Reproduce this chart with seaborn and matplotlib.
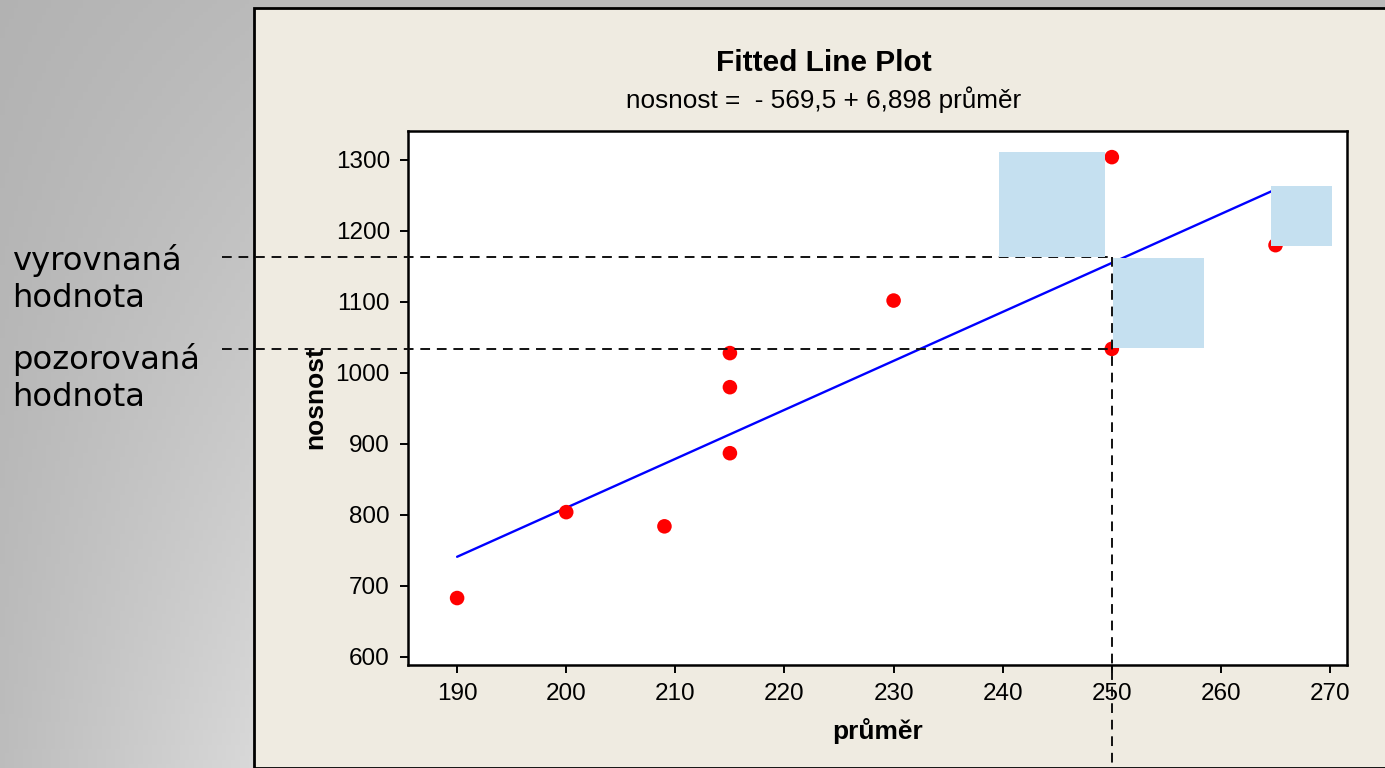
import numpy as np
import pandas as pd
import matplotlib
matplotlib.use("Agg")
import matplotlib.pyplot as plt
from matplotlib.patches import Rectangle
import seaborn as sns

# ---- data ----
prumer = [190, 200, 209, 215, 215, 215, 230, 250, 250, 265]
nosnost = [683, 804, 784, 1028, 980, 887, 1102, 1304, 1034, 1180]
intercept = -569.5
slope = 6.898
xticks = [190, 200, 210, 220, 230, 240, 250, 260, 270]
yticks = [600, 700, 800, 900, 1000, 1100, 1200, 1300]
title = "Fitted Line Plot"
subtitle = "nosnost =  - 569,5 + 6,898 průměr"
label_fit = "vyrovnaná\nhodnota"
label_obs = "pozorovaná\nhodnota"

df = pd.DataFrame({"průměr": prumer, "nosnost": nosnost})
fit_x = np.linspace(min(prumer), max(prumer), 30)
fit_df = pd.DataFrame({"průměr": fit_x, "nosnost": intercept + slope * fit_x})

sns.set_theme(style="ticks")
plt.rcParams["font.family"] = ["Liberation Sans", "DejaVu Sans"]
plt.rcParams["text.color"] = "black"
plt.rcParams["axes.labelcolor"] = "black"

W, H = 1385, 768
fig = plt.figure(figsize=(W / 100, H / 100), dpi=100)

# gradient background
bg = fig.add_axes([0, 0, 1, 1], zorder=-10)
xn = np.linspace(0, 1, 300)[None, :] * (W / 254)
xn = np.clip(xn, 0, 1)
yn = np.linspace(0, 1, 200)[:, None]
g = 0.70 + 0.03 * xn + 0.04 * yn + 0.08 * xn * yn
bg.imshow(np.dstack([g, g, g]), extent=[0, 1, 0, 1], aspect="auto",
          origin="upper", transform=bg.transAxes)
bg.set_xlim(0, 1); bg.set_ylim(0, 1)
bg.axis("off")
# beige panel
bg.add_patch(Rectangle((254 / W, 0), 1, 1 - 8 / H, transform=bg.transAxes,
                       facecolor="#EFEBE1", edgecolor="black", linewidth=2, zorder=5))

ax = fig.add_axes([408 / W, 1 - 665 / H, 939 / W, 534 / H])
ax.set_facecolor("white")
sns.lineplot(data=fit_df, x="průměr", y="nosnost", ax=ax, color="#0000FF",
             linewidth=1.7, zorder=3)
sns.scatterplot(data=df, x="průměr", y="nosnost", ax=ax, color="#FF0000",
                s=110, edgecolor="none", zorder=4)

ax.set_xlim(185.5, 271.55)
ax.set_ylim(588.7, 1340.8)
ax.set_xticks(xticks)
ax.set_yticks(yticks)
ax.tick_params(axis="both", direction="out", length=6, width=1.4, color="black",
               labelsize=17.5, pad=7, labelcolor="black")
for s in ax.spines.values():
    s.set_linewidth(1.8)
    s.set_color("black")
ax.set_xlabel("průměr", fontsize=19, fontweight="bold", labelpad=9, color="black")
ax.set_ylabel("nosnost", fontsize=19, fontweight="bold", labelpad=6, color="black")

fig.text(824 / W, 1 - 63 / H, title, ha="center", va="center",
         fontsize=21.5, fontweight="bold", color="black")
fig.text(824 / W, 1 - 100 / H, subtitle, ha="center", va="center",
         fontsize=18.8, color="black")

# annotations: dashed guide lines
x_obs = 250
y_fit_guide = 1163
y_obs = 1034
dash = dict(color="#111111", linestyle=(0, (5, 3.5)), linewidth=1.4,
            clip_on=False, zorder=6)
ax.plot([168.5, x_obs], [y_fit_guide, y_fit_guide], **dash)
ax.plot([168.5, x_obs], [y_obs, y_obs], **dash)
ax.plot([x_obs, x_obs], [y_fit_guide, 443], **dash)

box_color = "#C5E0F0"
for (x0, x1, y0, y1) in [(239.7, 249.4, 1163, 1311),
                         (250.1, 258.4, 1035, 1162),
                         (264.6, 270.2, 1179, 1263)]:
    ax.add_patch(Rectangle((x0, y0), x1 - x0, y1 - y0, facecolor=box_color,
                           edgecolor="none", zorder=7, clip_on=False))

fig.text(12 / W, 1 - 279 / H, label_fit, ha="left", va="center", fontsize=23.2,
         family="DejaVu Sans", color="black", linespacing=1.22)
fig.text(12 / W, 1 - 378 / H, label_obs, ha="left", va="center", fontsize=23.2,
         family="DejaVu Sans", color="black", linespacing=1.22)

fig.savefig("out.png", dpi=100)
